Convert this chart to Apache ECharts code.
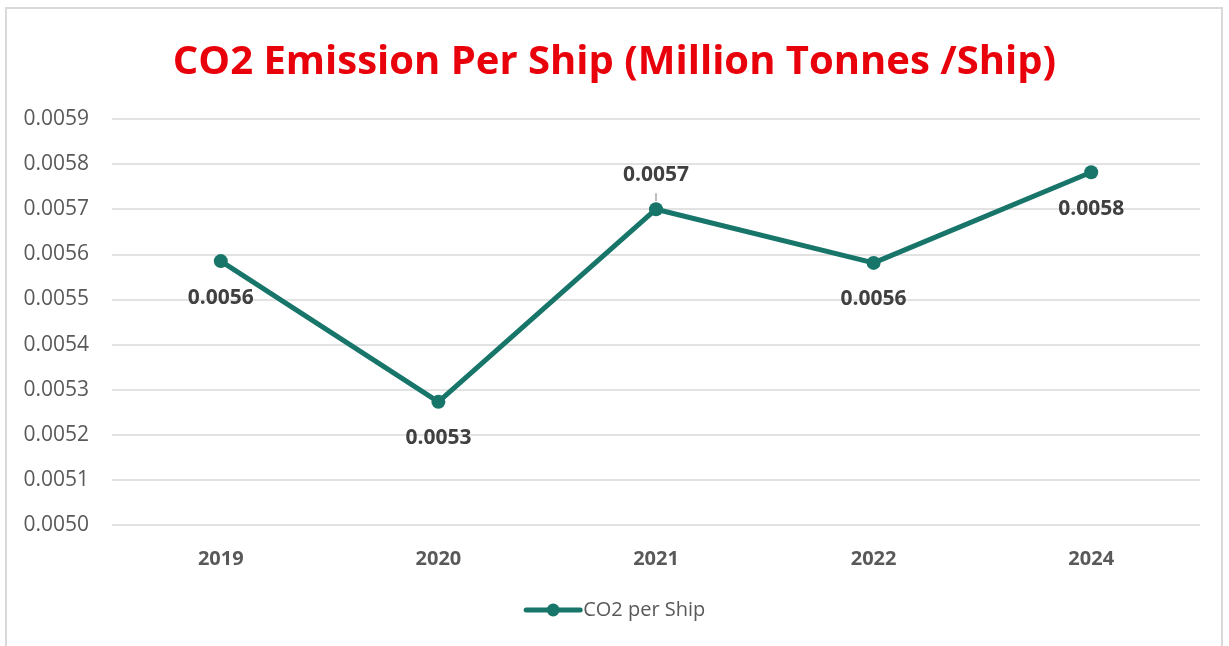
<!DOCTYPE html>
<html>
<head>
<meta charset="utf-8">
<style>
  html, body { margin: 0; padding: 0; background: #ffffff; }
  #frame { position: absolute; left: 5px; top: 7px; width: 1218px; height: 650px; border: 2px solid #d9d9d9; box-sizing: border-box; }
  #chart { position: absolute; left: 0; top: 0; width: 1229px; height: 646px; }
</style>
<script src="https://cdn.jsdelivr.net/npm/echarts@6/dist/echarts.min.js"></script>
</head>
<body>
<div id="frame"></div>
<div id="chart"></div>
<script>
// Emission intensity per ship, by reporting year
const years = ['2019', '2020', '2021', '2022', '2024'];
const co2PerShip = [0.005585, 0.005273, 0.005700, 0.005581, 0.005782];
// Which side of each point its value label sits on
const labelSides = ['bottom', 'bottom', 'top', 'bottom', 'bottom'];
const seriesName = 'CO2 per Ship';
const chartTitle = 'CO2 Emission Per Ship (Million Tonnes /Ship)';

const lineColor = '#177569';
const font = '"Open Sans", "Noto Sans", sans-serif';

const chart = echarts.init(document.getElementById('chart'), null, { renderer: 'canvas' });

// Labels above a point get a short grey leader tick below the text
const seriesData = co2PerShip.map((v, i) => {
  const item = { value: v, label: { position: labelSides[i] } };
  if (labelSides[i] === 'top') item.label.distance = 0;
  return item;
});

chart.setOption({
  backgroundColor: 'transparent',
  animation: false,
  title: {
    text: chartTitle,
    left: 'center',
    top: 38,
    textStyle: { color: '#e8000b', fontSize: 40, fontWeight: 'bold', fontFamily: font }
  },
  legend: {
    bottom: 21,
    left: 'center',
    itemWidth: 54,
    itemHeight: 16,
    data: [{ name: seriesName }],
    lineStyle: { width: 5, cap: 'round' },
    textStyle: { color: '#595959', fontSize: 20, fontFamily: font, padding: [0, 0, 0, -2] }
  },
  grid: { left: 112, right: 29, top: 119, bottom: 121, containLabel: false },
  xAxis: {
    type: 'category',
    data: years,
    boundaryGap: true,
    axisLine: { show: false },
    axisTick: { show: false },
    axisLabel: { color: '#595959', fontSize: 20, fontWeight: 'bold', fontFamily: font, margin: 24 }
  },
  yAxis: {
    type: 'value',
    min: 0.0050,
    max: 0.0059,
    interval: 0.0001,
    axisLine: { show: false },
    axisTick: { show: false },
    splitLine: { lineStyle: { color: '#d9d9d9', width: 1.5 } },
    axisLabel: {
      color: '#595959', fontSize: 21, fontFamily: font, margin: 23,
      formatter: v => v.toFixed(4)
    }
  },
  series: [{
    name: seriesName,
    type: 'line',
    data: seriesData,
    symbol: 'circle',
    symbolSize: 14,
    lineStyle: { color: lineColor, width: 5 },
    itemStyle: { color: lineColor },
    label: {
      show: true,
      distance: 19,
      color: '#404040',
      fontSize: 21,
      fontWeight: 'bold',
      fontFamily: font,
      formatter: p => {
        const txt = p.value.toFixed(4);
        return labelSides[p.dataIndex] === 'top' ? '{v|' + txt + '}\n{g|}' : txt;
      },
      rich: {
        v: { color: '#404040', fontSize: 21, fontWeight: 'bold', fontFamily: font, lineHeight: 34 },
        g: { width: 1.5, height: 8, backgroundColor: '#a6a6a6', lineHeight: 10 }
      }
    },
    emphasis: { disabled: true }
  }]
});
</script>
</body>
</html>
